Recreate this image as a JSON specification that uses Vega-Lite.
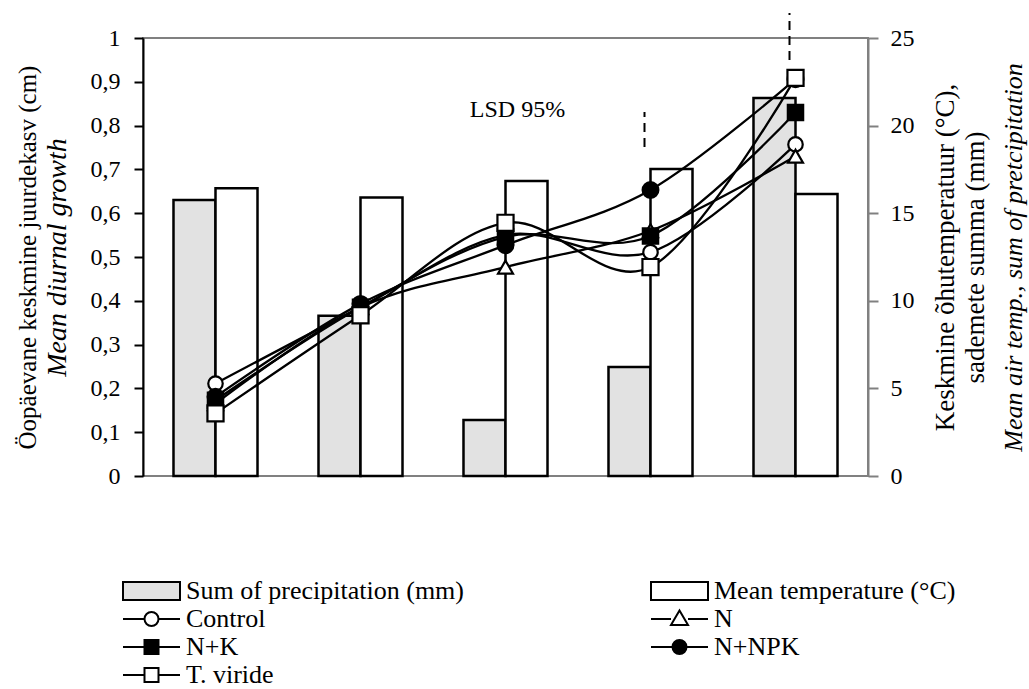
{
  "$schema": "https://vega.github.io/schema/vega-lite/v6.json",
  "width": 725,
  "height": 438,
  "autosize": {"type": "none"},
  "padding": {"left": 143, "top": 38, "right": 161, "bottom": 213},
  "background": "white",
  "config": {
    "font": "Liberation Serif",
    "view": {"stroke": "#808080", "strokeWidth": 2},
    "axis": {"labelFont": "Liberation Serif", "titleFont": "Liberation Serif", "labelColor": "black", "titleColor": "black", "titleFontWeight": "normal", "grid": false}
  },
  "datasets": {
    "weather": [
      {"period": "22.06-1.07", "measure": "Sum of precipitation (mm)", "value": 15.75},
      {"period": "22.06-1.07", "measure": "Mean temperature (°C)", "value": 16.42},
      {"period": "2.07-11.07", "measure": "Sum of precipitation (mm)", "value": 9.15},
      {"period": "2.07-11.07", "measure": "Mean temperature (°C)", "value": 15.89},
      {"period": "12.07-21.07", "measure": "Sum of precipitation (mm)", "value": 3.2},
      {"period": "12.07-21.07", "measure": "Mean temperature (°C)", "value": 16.84},
      {"period": "22.07-31.07", "measure": "Sum of precipitation (mm)", "value": 6.22},
      {"period": "22.07-31.07", "measure": "Mean temperature (°C)", "value": 17.52},
      {"period": "1.08-9.08", "measure": "Sum of precipitation (mm)", "value": 21.57},
      {"period": "1.08-9.08", "measure": "Mean temperature (°C)", "value": 16.1}
    ],
    "growth": [
      {"series": "Control", "period": "22.06-1.07", "growth": 0.211},
      {"series": "Control", "period": "2.07-11.07", "growth": 0.385},
      {"series": "Control", "period": "12.07-21.07", "growth": 0.55},
      {"series": "Control", "period": "22.07-31.07", "growth": 0.511},
      {"series": "Control", "period": "1.08-9.08", "growth": 0.757},
      {"series": "N", "period": "22.06-1.07", "growth": 0.165},
      {"series": "N", "period": "2.07-11.07", "growth": 0.385},
      {"series": "N", "period": "12.07-21.07", "growth": 0.477},
      {"series": "N", "period": "22.07-31.07", "growth": 0.56},
      {"series": "N", "period": "1.08-9.08", "growth": 0.73},
      {"series": "N+K", "period": "22.06-1.07", "growth": 0.173},
      {"series": "N+K", "period": "2.07-11.07", "growth": 0.385},
      {"series": "N+K", "period": "12.07-21.07", "growth": 0.546},
      {"series": "N+K", "period": "22.07-31.07", "growth": 0.548},
      {"series": "N+K", "period": "1.08-9.08", "growth": 0.83},
      {"series": "N+NPK", "period": "22.06-1.07", "growth": 0.181},
      {"series": "N+NPK", "period": "2.07-11.07", "growth": 0.393},
      {"series": "N+NPK", "period": "12.07-21.07", "growth": 0.527},
      {"series": "N+NPK", "period": "22.07-31.07", "growth": 0.653},
      {"series": "N+NPK", "period": "1.08-9.08", "growth": 0.906},
      {"series": "T. viride", "period": "22.06-1.07", "growth": 0.143},
      {"series": "T. viride", "period": "2.07-11.07", "growth": 0.367},
      {"series": "T. viride", "period": "12.07-21.07", "growth": 0.578},
      {"series": "T. viride", "period": "22.07-31.07", "growth": 0.477},
      {"series": "T. viride", "period": "1.08-9.08", "growth": 0.909}
    ],
    "lsd": [
      {"period": "22.07-31.07", "lo": 0.751, "hi": 0.831},
      {"period": "1.08-9.08", "lo": 0.95, "hi": 1.057}
    ],
    "note": [
      {"period": "12.07-21.07", "growth": 0.836, "label": "LSD 95%"}
    ],
    "legend": [
      {"key": "Sum of precipitation (mm)"},
      {"key": "Mean temperature (°C)"},
      {"key": "Control"},
      {"key": "N"},
      {"key": "N+K"},
      {"key": "N+NPK"},
      {"key": "T. viride"}
    ]
  },
  "resolve": {"scale": {"y": "independent", "shape": "independent", "fill": "independent", "size": "independent"}},
  "layer": [
    {
      "data": {"name": "weather"},
      "mark": {"type": "bar", "stroke": "black", "strokeWidth": 2.5},
      "encoding": {
        "x": {
          "field": "period", "type": "nominal",
          "sort": ["22.06-1.07", "2.07-11.07", "12.07-21.07", "22.07-31.07", "1.08-9.08"],
          "scale": {"paddingInner": 0, "paddingOuter": 0},
          "axis": {"title": null, "labelAngle": 0, "labelFontSize": 26, "labelPadding": 14, "tickSize": 8, "tickBand": "extent", "tickColor": "#444", "tickWidth": 2, "domainColor": "#444", "domainWidth": 2}
        },
        "xOffset": {
          "field": "measure", "type": "nominal",
          "sort": ["Sum of precipitation (mm)", "Mean temperature (°C)"],
          "scale": {"paddingInner": 0, "paddingOuter": 0.726}
        },
        "y": {
          "field": "value", "type": "quantitative",
          "scale": {"domain": [0, 25]},
          "axis": {"orient": "right", "values": [0, 5, 10, 15, 20, 25], "labelFontSize": 24, "labelPadding": 12, "tickSize": 10, "tickColor": "#808080", "tickWidth": 2, "domainColor": "#808080", "domainWidth": 2, "title": null}
        },
        "fill": {
          "field": "measure", "type": "nominal",
          "scale": {"domain": ["Sum of precipitation (mm)", "Mean temperature (°C)"], "range": ["#e2e2e2", "white"]},
          "legend": null
        },
        "stroke": {"value": "black"},
        "strokeWidth": {"value": 2.5},
        "strokeOpacity": {"value": 1}
      }
    },
    {
      "layer": [
        {
          "data": {"name": "growth"},
          "mark": {"type": "line", "interpolate": "cardinal", "stroke": "black", "strokeWidth": 2.3},
          "encoding": {
            "x": {"field": "period", "type": "nominal", "sort": ["22.06-1.07", "2.07-11.07", "12.07-21.07", "22.07-31.07", "1.08-9.08"], "axis": null},
            "y": {
              "field": "growth", "type": "quantitative", "scale": {"domain": [0, 1]},
              "axis": {"orient": "left", "values": [0, 0.1, 0.2, 0.3, 0.4, 0.5, 0.6, 0.7, 0.8, 0.9, 1], "labelExpr": "replace(format(datum.value, '~g'), '.', ',')", "labelFontSize": 24, "labelPadding": 14, "tickSize": 9, "tickColor": "black", "tickWidth": 2, "domainColor": "black", "domainWidth": 2, "title": null}
            },
            "detail": {"field": "series", "type": "nominal"},
            "order": {"value": null}
          }
        },
        {
          "data": {"name": "growth"},
          "mark": {"type": "point", "filled": true, "opacity": 1, "stroke": "black", "strokeWidth": 2.2},
          "encoding": {
            "x": {"field": "period", "type": "nominal", "sort": ["22.06-1.07", "2.07-11.07", "12.07-21.07", "22.07-31.07", "1.08-9.08"], "axis": null},
            "y": {"field": "growth", "type": "quantitative", "scale": {"domain": [0, 1]}},
            "shape": {"field": "series", "type": "nominal", "scale": {"domain": ["Control", "N", "N+K", "N+NPK", "T. viride"], "range": ["circle", "triangle-up", "square", "circle", "square"]}, "legend": null},
            "fill": {"field": "series", "type": "nominal", "scale": {"domain": ["Control", "N", "N+K", "N+NPK", "T. viride"], "range": ["white", "white", "black", "black", "white"]}, "legend": null},
            "size": {"field": "series", "type": "nominal", "scale": {"domain": ["Control", "N", "N+K", "N+NPK", "T. viride"], "range": [210, 260, 230, 210, 256]}, "legend": null}
          }
        },
        {
          "data": {"name": "lsd"},
          "mark": {"type": "rule", "strokeDash": [9, 6], "strokeWidth": 2, "color": "black", "xOffset": -6},
          "encoding": {
            "x": {"field": "period", "type": "nominal", "sort": ["22.06-1.07", "2.07-11.07", "12.07-21.07", "22.07-31.07", "1.08-9.08"], "axis": null},
            "y": {"field": "lo", "type": "quantitative", "scale": {"domain": [0, 1]}},
            "y2": {"field": "hi"}
          }
        },
        {
          "data": {"name": "note"},
          "mark": {"type": "text", "fontSize": 24, "font": "Liberation Serif", "color": "black", "dx": 12, "baseline": "middle", "align": "center"},
          "encoding": {
            "x": {"field": "period", "type": "nominal", "sort": ["22.06-1.07", "2.07-11.07", "12.07-21.07", "22.07-31.07", "1.08-9.08"], "axis": null},
            "y": {"field": "growth", "type": "quantitative", "scale": {"domain": [0, 1]}},
            "text": {"field": "label"}
          }
        }
      ]
    },
    {
      "data": {"values": [{"v": 0}, {"v": 1}]},
      "mark": {"type": "point", "opacity": 0},
      "encoding": {
        "y": {"field": "v", "type": "quantitative", "scale": {"domain": [0, 1]},
          "axis": {"orient": "left", "labels": false, "ticks": false, "domain": false, "title": "Mean diurnal growth", "titleFontStyle": "italic", "titleFontSize": 28, "titlePadding": 72}}
      }
    },
    {
      "data": {"values": [{"v": 0}, {"v": 1}]},
      "mark": {"type": "point", "opacity": 0},
      "encoding": {
        "y": {"field": "v", "type": "quantitative", "scale": {"domain": [0, 1]},
          "axis": {"orient": "left", "labels": false, "ticks": false, "domain": false, "title": "Öopäevane keskmine juurdekasv (cm)", "titleFontSize": 25, "titlePadding": 103}}
      }
    },
    {
      "data": {"values": [{"v": 0}, {"v": 1}]},
      "mark": {"type": "point", "opacity": 0},
      "encoding": {
        "y": {"field": "v", "type": "quantitative", "scale": {"domain": [0, 1]},
          "axis": {"orient": "right", "labels": false, "ticks": false, "domain": false, "title": "Keskmine õhutemperatuur (°C),", "titleFontSize": 27, "titleAngle": 270, "titleBaseline": "top", "titlePadding": 64}}
      }
    },
    {
      "data": {"values": [{"v": 0}, {"v": 1}]},
      "mark": {"type": "point", "opacity": 0},
      "encoding": {
        "y": {"field": "v", "type": "quantitative", "scale": {"domain": [0, 1]},
          "axis": {"orient": "right", "labels": false, "ticks": false, "domain": false, "title": "sademete summa (mm)", "titleFontSize": 27, "titleAngle": 270, "titleBaseline": "top", "titlePadding": 94}}
      }
    },
    {
      "data": {"values": [{"v": 0}, {"v": 1}]},
      "mark": {"type": "point", "opacity": 0},
      "encoding": {
        "y": {"field": "v", "type": "quantitative", "scale": {"domain": [0, 1]},
          "axis": {"orient": "right", "labels": false, "ticks": false, "domain": false, "title": "Mean air temp., sum of pretcipitation", "titleFontStyle": "italic", "titleFontSize": 26, "titleAngle": 270, "titleBaseline": "top", "titlePadding": 132}}
      }
    },
    {
      "data": {"name": "legend"},
      "mark": {"type": "point", "opacity": 0, "filled": true, "stroke": "black", "strokeWidth": 2},
      "encoding": {
        "shape": {
          "field": "key", "type": "nominal",
          "scale": {
            "domain": ["Sum of precipitation (mm)", "Mean temperature (°C)", "Control", "N", "N+K", "N+NPK", "T. viride"],
            "range": [
              "M-1.2,-1.8H10.2V1.8H-1.2Z",
              "M-1.2,-1.8H10.2V1.8H-1.2Z",
              "M-1.2,0H3.1M5.9,0H10.2M3.1,0A1.4,1.4 0 1,0 5.9,0A1.4,1.4 0 1,0 3.1,0Z",
              "M-1.2,0H2.8M6.2,0H10.2M4.5,-1.7L6.2,1.2H2.8Z",
              "M-1.2,0H3.1M5.9,0H10.2M3.1,-1.4H5.9V1.4H3.1Z",
              "M-1.2,0H3.1M5.9,0H10.2M3.1,0A1.4,1.4 0 1,0 5.9,0A1.4,1.4 0 1,0 3.1,0Z",
              "M-1.2,0H3.1M5.9,0H10.2M3.1,-1.4H5.9V1.4H3.1Z"
            ]
          },
          "legend": {"title": null, "orient": "none", "legendX": -27, "legendY": 540, "direction": "horizontal", "columns": 2, "columnPadding": 179, "rowPadding": 2, "symbolSize": 100, "symbolStrokeWidth": 2, "symbolStrokeColor": "black", "symbolOpacity": 1, "labelFont": "Liberation Serif", "labelFontSize": 26, "labelColor": "black", "labelOffset": 44, "labelLimit": 0, "padding": 0, "gridAlign": "each",
            "encode": {"symbols": {"update": {"stroke": {"value": "black"}, "strokeWidth": {"value": 2}, "strokeOpacity": {"value": 1}, "opacity": {"value": 1}}}}}
        },
        "fill": {
          "field": "key", "type": "nominal",
          "scale": {
            "domain": ["Sum of precipitation (mm)", "Mean temperature (°C)", "Control", "N", "N+K", "N+NPK", "T. viride"],
            "range": ["#e2e2e2", "white", "white", "white", "black", "black", "white"]
          },
          "legend": {"title": null, "orient": "none", "legendX": -27, "legendY": 540, "direction": "horizontal", "columns": 2, "columnPadding": 179, "rowPadding": 2, "symbolSize": 100, "symbolStrokeWidth": 2, "symbolStrokeColor": "black", "symbolOpacity": 1, "labelFont": "Liberation Serif", "labelFontSize": 26, "labelColor": "black", "labelOffset": 44, "labelLimit": 0, "padding": 0, "gridAlign": "each",
            "encode": {"symbols": {"update": {"stroke": {"value": "black"}, "strokeWidth": {"value": 2}, "strokeOpacity": {"value": 1}, "opacity": {"value": 1}}}}}
        }
      }
    }
  ]
}
